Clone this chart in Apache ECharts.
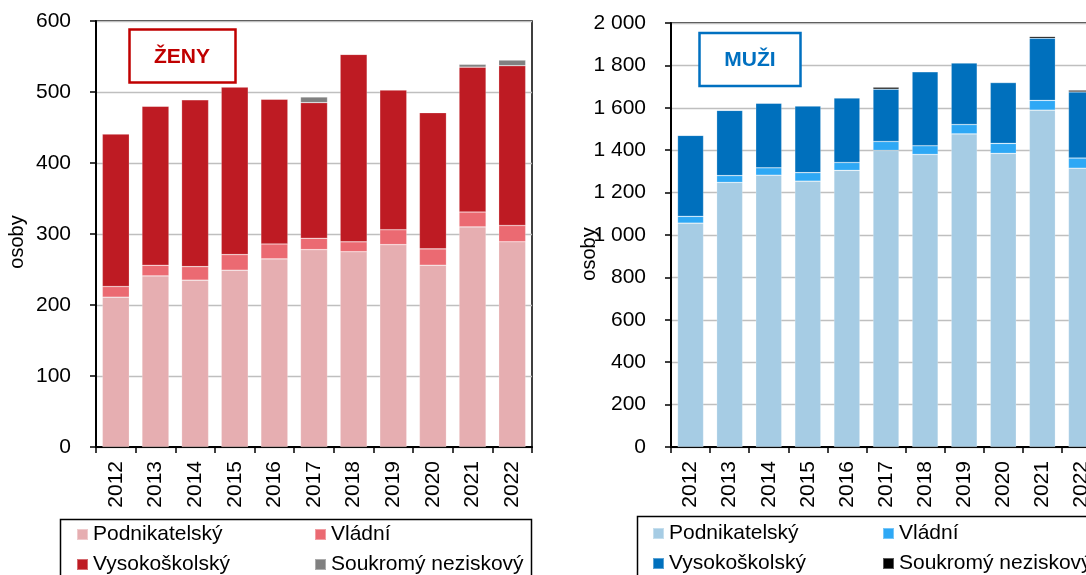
<!DOCTYPE html>
<html>
<head>
<meta charset="utf-8">
<script src="https://cdn.jsdelivr.net/npm/echarts@6/dist/echarts.min.js"></script>
<style>
html,body{margin:0;padding:0;background:#fff;overflow:hidden;width:1086px;height:575px;}
#c{width:1120px;height:575px;}
</style>
</head>
<body>
<div id="c"></div>
<script>
const years = ['2012','2013','2014','2015','2016','2017','2018','2019','2020','2021','2022'];
const seriesNames = ['Podnikatelský','Vládní','Vysokoškolský','Soukromý neziskový'];

const zenyPodnik = [211, 241, 235, 249, 265, 278, 275, 285, 256, 310, 289];
const zenyVladni = [15, 15, 19, 22, 21, 16, 14, 21, 23, 21, 23];
const zenyVysok  = [215, 224, 235, 236, 204, 191, 264, 197, 192, 204, 225];
const zenySoukr  = [0, 0, 0, 0, 0, 8, 0, 0, 0, 4, 8];

const muziPodnik = [1056, 1248, 1282, 1254, 1305, 1399, 1380, 1477, 1385, 1589, 1315];
const muziVladni = [32, 32, 35, 40, 37, 42, 41, 44, 47, 46, 48];
const muziVysok  = [382, 308, 305, 315, 305, 247, 349, 291, 287, 293, 312];
const muziSoukr  = [0, 0, 0, 0, 0, 9, 0, 0, 0, 8, 8];

const zenyColors = ['#E6AEB1', '#EB6A72', '#BE1B23', '#808080'];
const muziColors = ['#A6CCE4', '#2EA8F5', '#0070BD', '#000000'];

const FONT = '"Liberation Sans", Arial, sans-serif';

const chart = echarts.init(document.getElementById('c'), null, {renderer: 'canvas', width: 1120, height: 575});

function xAx(gi) {
  return {
    type: 'category', gridIndex: gi, data: years,
    axisLine: {lineStyle: {color: '#000', width: 2}},
    axisTick: {show: true, length: 6, lineStyle: {color: '#000', width: 1.5}},
    axisLabel: {rotate: 90, fontSize: 21, color: '#000', margin: 14, fontFamily: FONT}
  };
}
function yAx(gi, max, interval) {
  return {
    type: 'value', gridIndex: gi, min: 0, max: max, interval: interval,
    axisLine: {show: true, lineStyle: {color: '#000', width: 2}},
    axisTick: {show: true, length: 6, lineStyle: {color: '#000', width: 1.5}},
    axisLabel: {
      fontSize: 21, color: '#000', margin: 25, fontFamily: FONT,
      formatter: v => String(v).replace(/\B(?=(\d{3})+(?!\d))/g, ' ')
    },
    splitLine: {lineStyle: {color: '#BFBFBF', width: 1.3}}
  };
}

const zenyData = [zenyPodnik, zenyVladni, zenyVysok, zenySoukr];
const muziData = [muziPodnik, muziVladni, muziVysok, muziSoukr];

const series = [];
seriesNames.forEach((n, i) => {
  series.push({
    name: n, type: 'bar', stack: 'zeny', xAxisIndex: 0, yAxisIndex: 0,
    barWidth: 27, data: zenyData[i],
    itemStyle: {color: zenyColors[i], borderColor: 'rgba(255,255,255,0.35)', borderWidth: 0.6}
  });
});
seriesNames.forEach((n, i) => {
  series.push({
    name: n, type: 'bar', stack: 'muzi', xAxisIndex: 1, yAxisIndex: 1,
    barWidth: 26, data: muziData[i],
    itemStyle: {color: muziColors[i], borderColor: 'rgba(255,255,255,0.35)', borderWidth: 0.6}
  });
});

function leg(name, color, left, top) {
  return {
    data: [{name: name, itemStyle: {color: color}}],
    left: left, top: top, padding: 0, icon: 'rect',
    itemWidth: 11, itemHeight: 11, itemGap: 0,
    selectedMode: false,
    textStyle: {fontSize: 21, color: '#000', fontFamily: FONT, padding: [0, 0, 0, 0]}
  };
}

const legends = [
  leg(seriesNames[0], zenyColors[0], 76, 524),
  leg(seriesNames[1], zenyColors[1], 314, 524),
  leg(seriesNames[2], zenyColors[2], 76, 554),
  leg(seriesNames[3], zenyColors[3], 314, 554),
  leg(seriesNames[0], muziColors[0], 652, 523),
  leg(seriesNames[1], muziColors[1], 882, 523),
  leg(seriesNames[2], muziColors[2], 652, 553),
  leg(seriesNames[3], muziColors[3], 882, 553)
];

chart.setOption({
  animation: false,
  backgroundColor: '#fff',
  textStyle: {fontFamily: FONT},
  grid: [
    {left: 96, top: 21, width: 436, height: 426, show: true, borderColor: '#000', borderWidth: 1.5, containLabel: false},
    {left: 671, top: 23, width: 430, height: 424, show: true, borderColor: '#000', borderWidth: 1.5, containLabel: false}
  ],
  xAxis: [xAx(0), xAx(1)],
  yAxis: [yAx(0, 600, 100), yAx(1, 2000, 200)],
  legend: legends,
  series: series,
  graphic: [
    {type: 'rect', shape: {x: 60.5, y: 519.5, width: 471, height: 70}, style: {fill: 'none', stroke: '#000', lineWidth: 1.5}, z: 0},
    {type: 'rect', shape: {x: 637.5, y: 516.5, width: 470, height: 70}, style: {fill: 'none', stroke: '#000', lineWidth: 1.5}, z: 0},
    {type: 'rect', shape: {x: 129.5, y: 29.5, width: 106, height: 53}, style: {fill: '#fff', stroke: '#C00000', lineWidth: 2.5}, z: 10},
    {type: 'text', x: 182, y: 57, z: 11, style: {text: 'ŽENY', fill: '#C00000', font: 'bold 21px ' + FONT, align: 'center', verticalAlign: 'middle'}},
    {type: 'rect', shape: {x: 699.5, y: 33, width: 101, height: 53}, style: {fill: '#fff', stroke: '#0070C0', lineWidth: 2.5}, z: 10},
    {type: 'text', x: 750, y: 60, z: 11, style: {text: 'MUŽI', fill: '#0070C0', font: 'bold 21px ' + FONT, align: 'center', verticalAlign: 'middle'}},
    {type: 'text', x: 17.5, y: 242, rotation: Math.PI / 2, style: {text: 'osoby', fill: '#000', font: '20px ' + FONT, align: 'center', verticalAlign: 'middle'}},
    {type: 'text', x: 589.5, y: 254, rotation: Math.PI / 2, style: {text: 'osoby', fill: '#000', font: '20px ' + FONT, align: 'center', verticalAlign: 'middle'}}
  ]
});
</script>
</body>
</html>
